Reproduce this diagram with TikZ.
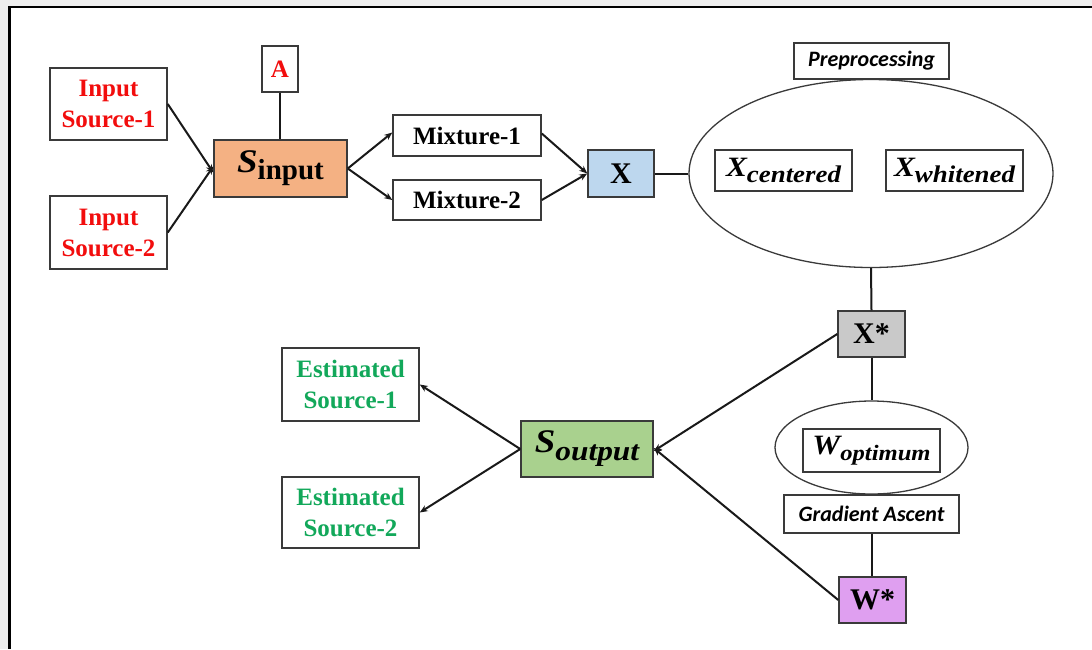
\documentclass[tikz,border=0pt]{standalone}
\usepackage{fontspec}
\setmainfont{Liberation Serif}
\newfontfamily\calib{Carlito}
\newfontfamily\mfont[FakeStretch=1.12]{Liberation Serif}
\usetikzlibrary{arrows.meta,shapes.geometric}
\definecolor{srcred}{HTML}{F20D0D}
\definecolor{estgreen}{HTML}{12A85A}
\definecolor{sinfill}{HTML}{F4B183}
\definecolor{xfill}{HTML}{BDD7EE}
\definecolor{xsfill}{HTML}{C9C9C9}
\definecolor{wsfill}{HTML}{DF9FF0}
\definecolor{soutfill}{HTML}{A9D18E}
\definecolor{edge}{HTML}{3A3A3A}
\newcommand{\bigtext}{\fontsize{25}{31}\selectfont\bfseries}
\newcommand{\mathsym}[4]{{\mfont\bfseries\itshape\fontsize{#1}{#1}\selectfont #2}\raisebox{-#4pt}{#3}}
\tikzset{
  box/.style={draw=edge, line width=1.5pt, rectangle, inner sep=0pt, align=center, font=\bigtext},
  tag/.style={box, font=\calib\fontsize{22}{22}\selectfont\bfseries\itshape},
  oval/.style={draw=edge, line width=1.3pt, ellipse, inner sep=0pt},
  conn/.style={line width=2pt, black!90},
  flow/.style={conn, -{Stealth[length=8pt,width=6.5pt]}},
}
\begin{document}
\begin{tikzpicture}[x=1pt,y=-1pt]
\useasboundingbox (0,0) rectangle (1092,649);
% page backdrop and frame
\fill[gray!13] (0,0) rectangle (1092,649);
\fill[white] (9,7) rectangle (1092,649);
\draw[line width=2pt] (8,7) -- (1092,7);
\draw[line width=3pt] (9.5,6) -- (9.5,649);

% sources and mixing
\node[box, minimum width=117, minimum height=72, text=srcred] (in1) at (108.5,104) {Input\\Source-1};
\node[box, minimum width=117, minimum height=73, text=srcred] (in2) at (108.5,232.5) {Input\\Source-2};
\node[box, minimum width=36, minimum height=46, text=srcred] (A) at (280,69) {A};
\node[box, fill=sinfill, minimum width=133, minimum height=57] (sin) at (280.5,168.5)
  {\mathsym{33}{S}{\fontsize{29}{29}\selectfont\bfseries input}{7}};
\node[box, minimum width=148, minimum height=41] (mix1) at (467,135.5) {Mixture-1};
\node[box, minimum width=148, minimum height=40] (mix2) at (467,200) {Mixture-2};
\node[box, fill=xfill, minimum width=66, minimum height=47, font=\fontsize{30}{30}\selectfont\bfseries] (X) at (621,173.5) {X};

% preprocessing
\node[oval, minimum width=364, minimum height=188] (pre) at (871,173.5) {};
\node[tag, minimum width=155, minimum height=36] (prep) at (871.5,61) {Preprocessing};
\node[box, minimum width=137, minimum height=41] (xc) at (783.5,170.5)
  {\mathsym{28}{X}{\mfont\fontsize{24}{24}\selectfont\bfseries\itshape centered}{6}};
\node[box, minimum width=137, minimum height=41] (xw) at (954.5,170.5)
  {\mathsym{28}{X}{\mfont\fontsize{24}{24}\selectfont\bfseries\itshape whitened}{6}};

% whitened data and optimisation
\node[box, fill=xsfill, minimum width=67, minimum height=46, font=\fontsize{30}{30}\selectfont\bfseries] (xs) at (871.5,334) {X*};
\node[oval, minimum width=193, minimum height=93] (wo) at (871.5,447.5) {};
\node[box, minimum width=137, minimum height=43] (wopt) at (871.5,450.5)
  {\mathsym{28}{W}{\mfont\fontsize{22}{22}\selectfont\bfseries\itshape optimum}{6}};
\node[tag, minimum width=175, minimum height=38] (ga) at (871.5,514) {Gradient Ascent};
\node[box, fill=wsfill, minimum width=67, minimum height=46, font=\fontsize{30}{30}\selectfont\bfseries] (ws) at (872.5,600) {W*};

% separated outputs
\node[box, fill=soutfill, minimum width=132, minimum height=56] (sout) at (587,449)
  {\mathsym{33}{S}{\mfont\fontsize{28}{28}\selectfont\bfseries\itshape output}{8}};
\node[box, minimum width=137, minimum height=73, text=estgreen] (est1) at (350.5,384.5) {Estimated\\Source-1};
\node[box, minimum width=137, minimum height=71, text=estgreen] (est2) at (350.5,512.5) {Estimated\\Source-2};

% connectors
\draw[flow] (in1.east) -- ([yshift=-4]sin.west);
\draw[flow] (in2.east) -- ([yshift=2]sin.west);
\draw[conn] (A.south) -- (A.south |- sin.north);
\draw[flow] (sin.east) -- ([yshift=3]mix1.west);
\draw[flow] (sin.east) -- (mix2.west);
\draw[flow] ([yshift=2]mix1.east) -- (X.west);
\draw[flow] (mix2.east) -- (X.west);
\draw[conn] (X.east) -- (pre.west);
\draw[conn] (pre.south) -- (xs.north);
\draw[conn] (xs.south) -- (wo.north);
\draw[conn] (ga.south) -- (ga.south |- ws.north);
\draw[flow] (xs.west) -- ([yshift=-2]sout.east);
\draw[flow] (ws.west) -- ([yshift=1]sout.east);
\draw[flow] (sout.west) -- (est1.east);
\draw[flow] (sout.west) -- (est2.east);
\end{tikzpicture}
\end{document}
